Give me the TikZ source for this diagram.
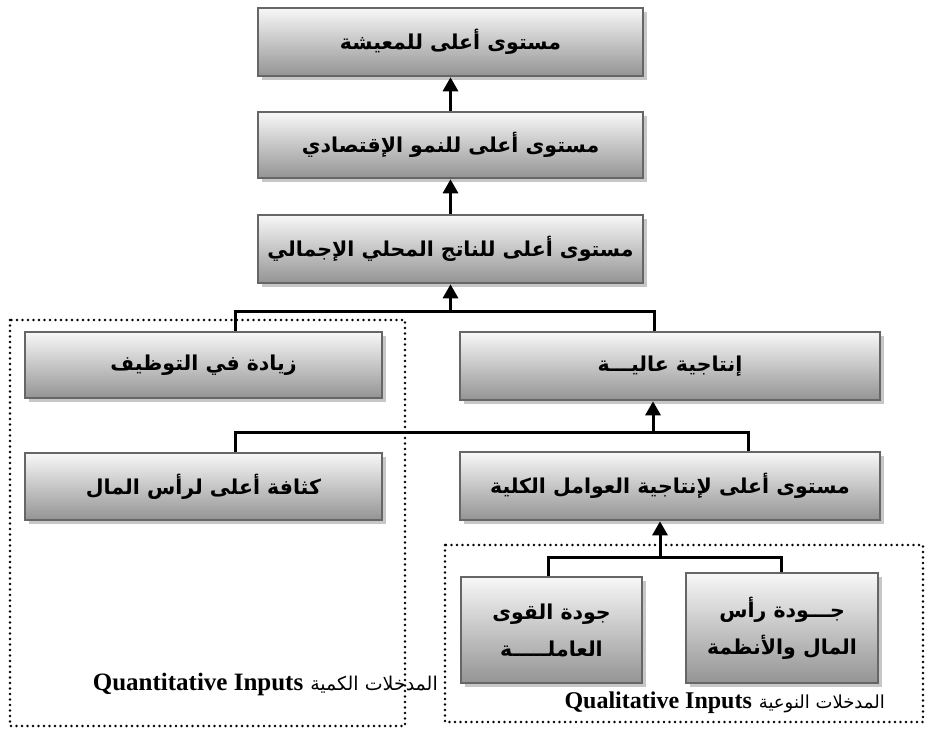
\documentclass[tikz,border=0pt]{standalone}
\usepackage{fontspec}
\setmainfont{Liberation Serif}
\newfontfamily\arabicfont[Script=Arabic]{DejaVu Sans}
\TeXXeTstate=1
\usetikzlibrary{arrows.meta,shadows}

\tikzset{
  stepbox/.style={draw=black!60, line width=2.6pt,
    top color=black!3, bottom color=black!42,
    drop shadow={shadow xshift=4pt, shadow yshift=-4pt, fill=black!22, opacity=1},
    font=\arabicfont\bfseries\fontsize{20.5}{37}\selectfont, align=center,
    inner sep=0pt},
  conn/.style={line width=3pt, black},
  arr/.style={conn, -{Triangle[width=15pt,length=14pt]}},
  dotbox/.style={line width=2.8pt, dash pattern=on 0pt off 5.5pt, line cap=round},
  grouplabel/.style={inner sep=0pt, anchor=east},
}

\begin{document}
\begin{tikzpicture}[x=1pt, y=-1pt]
\useasboundingbox (0,0) rectangle (928,733);

% dotted frames for the two input groups
\draw[dotbox] (10,320) rectangle (405,726);
\draw[dotbox] (445,545) rectangle (923,722);

% boxes
\node[stepbox, minimum width=385pt, minimum height=68pt] (b1) at (450.5,42)
  {\beginR مستوى أعلى للمعيشة\endR};
\node[stepbox, minimum width=385pt, minimum height=66pt] (b2) at (450.5,145)
  {\beginR مستوى أعلى للنمو الإقتصادي\endR};
\node[stepbox, minimum width=385pt, minimum height=68pt] (b3) at (450.5,249)
  {\beginR مستوى أعلى للناتج المحلي الإجمالي\endR};
\node[stepbox, minimum width=357pt, minimum height=66pt] (b4) at (203.5,365)
  {\beginR زيادة في التوظيف\endR};
\node[stepbox, minimum width=420pt, minimum height=68pt] (b5) at (670,366)
  {\beginR إنتاجية عاليـــة\endR};
\node[stepbox, minimum width=357pt, minimum height=67pt] (b6) at (203.5,486.5)
  {\beginR كثافة أعلى لرأس المال\endR};
\node[stepbox, minimum width=420pt, minimum height=68pt] (b7) at (670,486)
  {\beginR مستوى أعلى لإنتاجية العوامل الكلية\endR};
\node[stepbox, minimum width=181pt, minimum height=106pt] (b8) at (551.5,630)
  {\beginR جودة القوى\endR\\\beginR العاملـــــة\endR};
\node[stepbox, minimum width=192pt, minimum height=110pt] (b9) at (782,628)
  {\beginR جـــودة رأس\endR\\\beginR المال والأنظمة\endR};

% junction points
\coordinate (j1) at (450.5,311);
\coordinate (j2) at (653,432);
\coordinate (j3) at (660,557);

% connectors
\draw[arr] (b2.north) -- (b1.south);
\draw[arr] (b3.north) -- (b2.south);
\draw[conn] ([xshift=31.5pt]b4.north) |- (j1) -| ([xshift=-16pt]b5.north);
\draw[arr] (j1) -- (j1 |- b3.south);
\draw[conn] ([xshift=31.5pt]b6.north) |- (j2) -| ([xshift=78pt]b7.north);
\draw[arr] (j2) -- (j2 |- b5.south);
\draw[conn] ([xshift=-3.5pt]b8.north) |- (j3) -| ([xshift=-1pt]b9.north);
\draw[arr] (j3) -- (j3 |- b7.south);

% group labels
\node[grouplabel] (quant) at (438,684)
  {\beginR{\arabicfont\fontsize{19}{22}\selectfont المدخلات الكمية}\hspace{7pt}\beginL\textbf{\fontsize{25}{28}\selectfont Quantitative Inputs}\endL\endR};
\node[grouplabel] (qual) at (885,703)
  {\beginR{\arabicfont\fontsize{18}{22}\selectfont المدخلات النوعية}\hspace{7pt}\beginL\textbf{\fontsize{24}{28}\selectfont Qualitative Inputs}\endL\endR};
\end{tikzpicture}
\end{document}
